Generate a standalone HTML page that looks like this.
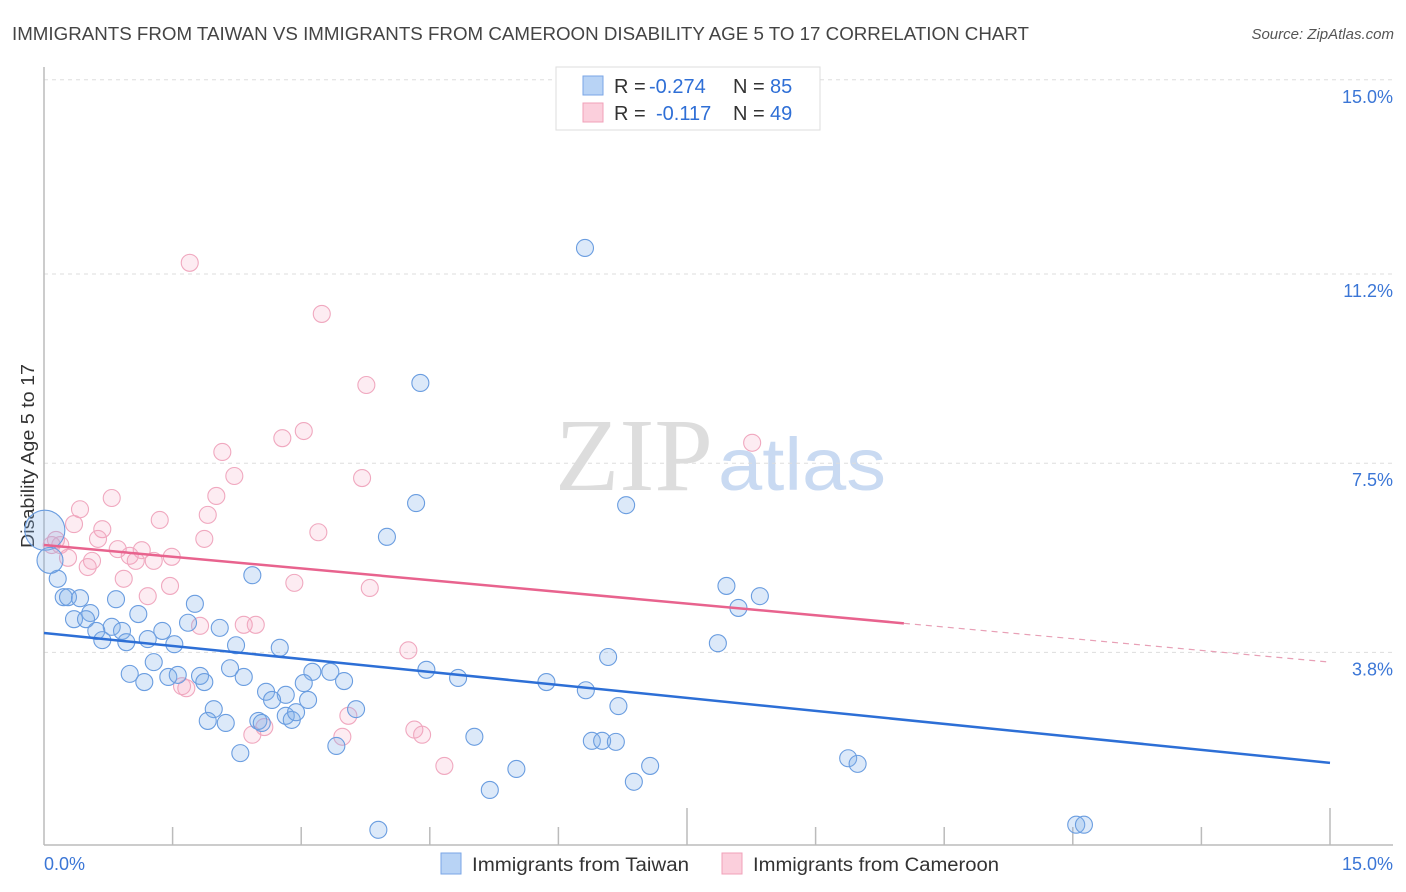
<!DOCTYPE html>
<html><head><meta charset="utf-8">
<style>
body{margin:0;background:#fff;font-family:"Liberation Sans",sans-serif;}
svg{display:block}
</style></head>
<body>
<svg id="chart" width="1406" height="892">
<text x="12" y="40" font-size="18" fill="#444" textLength="1017" lengthAdjust="spacingAndGlyphs">IMMIGRANTS FROM TAIWAN VS IMMIGRANTS FROM CAMEROON DISABILITY AGE 5 TO 17 CORRELATION CHART</text>
<text x="1394" y="39" font-size="15" fill="#555" font-style="italic" text-anchor="end">Source: ZipAtlas.com</text>
<text x="555" y="490" font-size="104" fill="#ddd" textLength="158" lengthAdjust="spacingAndGlyphs" font-family="Liberation Serif,serif">ZIP</text>
<text x="718" y="490" font-size="74" fill="#c9daf2" textLength="168" lengthAdjust="spacingAndGlyphs">atlas</text>
<text transform="translate(34,456) rotate(-90)" font-size="18" fill="#333" text-anchor="middle" textLength="184" lengthAdjust="spacingAndGlyphs">Disability Age 5 to 17</text>
<g id="grid"></g>
<g id="axes"></g>
<g id="pts"></g>
<g id="trends"></g>
<g>
<rect x="556" y="67" width="264" height="63" fill="#fff" stroke="#ddd"/>
<rect x="583" y="76" width="20" height="19" fill="#b8d3f5" stroke="#7aa6e6"/>
<rect x="583" y="103" width="20" height="19" fill="#fbcfdc" stroke="#f0a0b9"/>
<text x="614" y="93" font-size="20" fill="#333">R = <tspan x="649" fill="#2f6fd6">-0.274</tspan><tspan x="733">N = </tspan><tspan x="770" fill="#2f6fd6">85</tspan></text>
<text x="614" y="120" font-size="20" fill="#333">R = <tspan x="656" fill="#2f6fd6">-0.117</tspan><tspan x="733">N = </tspan><tspan x="770" fill="#2f6fd6">49</tspan></text>
</g>
<g>
<rect x="441" y="853" width="20" height="21" fill="#b8d3f5" stroke="#7aa6e6"/>
<text x="472" y="871" font-size="19" fill="#333" textLength="217" lengthAdjust="spacingAndGlyphs">Immigrants from Taiwan</text>
<rect x="722" y="853" width="20" height="21" fill="#fbcfdc" stroke="#f0a0b9"/>
<text x="753" y="871" font-size="19" fill="#333" textLength="246" lengthAdjust="spacingAndGlyphs">Immigrants from Cameroon</text>
</g>
</svg>
<script>
const yTicks=[15.0,11.2,7.5,3.8];
const yTickLabels=["15.0%","11.2%","7.5%","3.8%"];
const xTickLabels=["0.0%","15.0%"];
const taiwanX=[6.31,4.39,4.34,6.79,4.00,2.43,7.96,8.35,8.10,0.16,0.23,0.28,0.42,0.84,1.76,0.54,0.35,0.49,1.10,0.79,0.61,0.91,1.38,1.68,2.05,0.68,0.96,1.21,1.52,2.24,2.75,7.86,6.58,1.28,1.00,1.17,1.45,1.56,1.82,1.87,2.17,2.33,3.13,3.34,3.50,4.46,4.83,5.86,6.32,2.59,2.82,3.03,2.66,3.08,1.98,3.64,6.70,1.91,2.12,2.50,2.54,2.82,2.89,2.94,3.41,5.02,6.39,6.51,6.67,2.29,5.51,7.07,9.38,9.49,6.88,5.20,3.90,12.04,12.13,0.01,0.07];
const taiwanY=[11.71,9.07,6.72,6.68,6.06,5.31,5.10,4.90,4.67,5.24,4.88,4.88,4.86,4.84,4.75,4.57,4.45,4.45,4.55,4.30,4.22,4.22,4.22,4.38,4.28,4.04,4.00,4.06,3.96,3.94,3.89,3.98,3.71,3.61,3.38,3.22,3.32,3.36,3.34,3.22,3.49,3.32,3.42,3.42,3.24,3.46,3.30,3.22,3.06,3.03,2.97,3.20,2.87,2.87,2.69,2.69,2.75,2.46,2.42,2.46,2.42,2.56,2.48,2.63,1.97,2.15,2.07,2.07,2.05,1.83,1.52,1.58,1.73,1.62,1.27,1.11,0.33,0.43,0.43,6.19,5.60];
const cameroonX=[1.70,3.24,3.76,3.03,2.78,8.26,2.08,2.22,3.71,0.79,2.01,0.42,1.91,1.35,0.35,0.68,3.20,0.63,1.87,0.14,0.19,0.86,1.14,1.00,1.49,0.28,0.56,0.51,1.07,1.28,0.93,1.47,2.92,3.80,1.21,1.82,2.33,2.47,4.25,1.66,1.61,3.55,4.32,4.41,2.43,2.57,3.48,4.67,0.09];
const cameroonY=[11.42,10.42,9.03,8.13,7.99,7.90,7.72,7.25,7.21,6.82,6.86,6.60,6.49,6.39,6.31,6.21,6.15,6.02,6.02,6.00,5.90,5.82,5.80,5.69,5.67,5.65,5.59,5.47,5.59,5.59,5.24,5.10,5.16,5.06,4.90,4.32,4.34,4.34,3.84,3.10,3.14,2.56,2.29,2.19,2.19,2.34,2.15,1.58,5.90];
const taiwanTrend=[4.18,1.64];
const cameroonTrend=[5.90,3.61];
const cameroonSolidEnd=10.03;

const NS="http://www.w3.org/2000/svg";
const X0=44,X1=1330,Y0=846.7,PPY=51.13;
function sx(v){return X0+(X1-X0)*v/15;}
function sy(v){return Y0-v*PPY;}
function mk(tag,attrs,parent){const e=document.createElementNS(NS,tag);for(const k in attrs)e.setAttribute(k,attrs[k]);parent.appendChild(e);return e;}
const grid=document.getElementById('grid'),axes=document.getElementById('axes'),pts=document.getElementById('pts'),tr=document.getElementById('trends');
yTicks.forEach((t,i)=>{
  const l=mk('line',{x1:44,x2:1393,y1:sy(t),y2:sy(t),stroke:'#ddd','stroke-dasharray':'4,4'},grid);
  
  
  const tx=mk('text',{x:1393,y:sy(t)+23,'font-size':18,fill:'#3b76d6','text-anchor':'end'},grid);
  tx.textContent=yTickLabels[i];
  
  
});
const ax=mk('line',{x1:44,x2:44,y1:67,y2:845,stroke:'#bbb','stroke-width':1.5},axes);


const bx=mk('line',{x1:44,x2:1393,y1:845,y2:845,stroke:'#bbb','stroke-width':1.5},axes);


for(let i=1;i<=10;i++){
  const v=i*1.5;
  const tk=mk('line',{x1:sx(v),x2:sx(v),y1:(i%5==0)?808:827,y2:845,stroke:'#bbb','stroke-width':1.5},axes);
  
  
}
const xl0=mk('text',{x:44,y:870,'font-size':18,fill:'#3b76d6'},axes);xl0.textContent=xTickLabels[0];


const xl1=mk('text',{x:1393,y:870,'font-size':18,fill:'#3b76d6','text-anchor':'end'},axes);xl1.textContent=xTickLabels[1];


function dots(xs,ys,fill,stroke,name){
  xs.forEach((x,i)=>{
    let r=8.5;
    if(name==='taiwan-point'&&i===xs.length-2)r=20;
    if(name==='taiwan-point'&&i===xs.length-1)r=13;
    const c=mk('circle',{cx:sx(x),cy:sy(ys[i]),r:r,fill:fill,stroke:stroke,'stroke-width':1.1},pts);
    
    
  });
}
dots(cameroonX,cameroonY,'rgba(244,160,188,0.2)','#f0a8bf','cameroon-point');
dots(taiwanX,taiwanY,'rgba(130,175,235,0.28)','#6a9de0','taiwan-point');
const tl=mk('line',{x1:sx(0),y1:sy(taiwanTrend[0]),x2:sx(15),y2:sy(taiwanTrend[1]),stroke:'#2d6fd6','stroke-width':2.5},tr);


const cy=v=>cameroonTrend[0]+(cameroonTrend[1]-cameroonTrend[0])*v/15;
const cl=mk('line',{x1:sx(0),y1:sy(cameroonTrend[0]),x2:sx(cameroonSolidEnd),y2:sy(cy(cameroonSolidEnd)),stroke:'#e8638e','stroke-width':2.5},tr);


const cd=mk('line',{x1:sx(cameroonSolidEnd),y1:sy(cy(cameroonSolidEnd)),x2:sx(15),y2:sy(cameroonTrend[1]),stroke:'#e8a0b6','stroke-width':1.2,'stroke-dasharray':'6,5'},tr);


</script>
</body></html>
